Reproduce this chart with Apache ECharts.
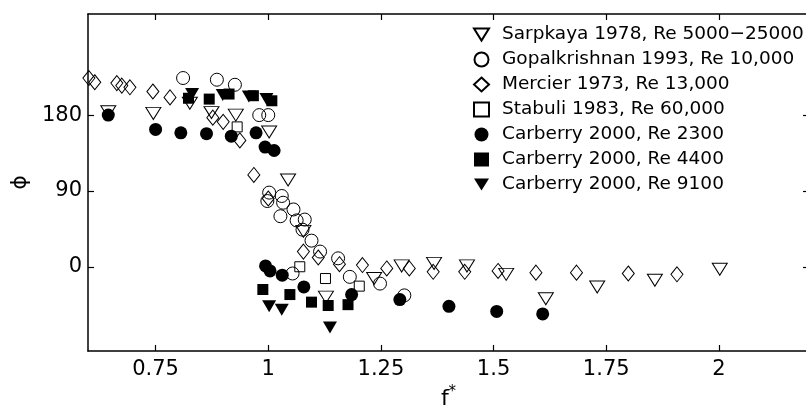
<!DOCTYPE html>
<html>
<head>
<meta charset="utf-8">
<script src="https://cdn.jsdelivr.net/npm/echarts@6/dist/echarts.min.js"></script>
<style>
  html, body { margin: 0; padding: 0; background: #fff; }
  #chart { width: 806px; height: 410px; }
</style>
</head>
<body>
<div id="chart"></div>
<script>
// Phase angle phi versus normalised frequency f*, several data sets.
const tickF = [0.75, 1, 1.25, 1.5, 1.75, 2];
const tickPhi = [0, 90, 180];

const seriesNames = [
  'Sarpkaya 1978, Re 5000\u221225000',
  'Gopalkrishnan 1993, Re 10,000',
  'Mercier 1973, Re 13,000',
  'Stabuli 1983, Re 60,000',
  'Carberry 2000, Re 2300',
  'Carberry 2000, Re 4400',
  'Carberry 2000, Re 9100'
];

const sarpkayaF   = [0.645, 0.745, 0.826, 0.874, 0.928, 1.002, 1.044, 1.078, 1.128, 1.235, 1.296, 1.368, 1.441, 1.528, 1.616, 1.730, 1.858, 2.002];
const sarpkayaPhi = [184, 182, 194, 183, 180, 160, 103, 42, -36, -14, 1, 4, 1, -9, -38, -24, -16, -3];

const gopalF   = [0.811, 0.886, 0.926, 0.980, 1.000, 1.002, 0.998, 1.030, 1.033, 1.027, 1.056, 1.063, 1.081, 1.076, 1.096, 1.115, 1.155, 1.054, 1.181, 1.248, 1.302];
const gopalPhi = [224, 222, 216, 180, 180, 88, 78, 84, 76, 60, 68, 55, 56, 44, 31, 18, 10, -8, -12, -20, -34];

const mercierF   = [0.602, 0.615, 0.664, 0.675, 0.693, 0.744, 0.782, 0.877, 0.900, 0.937, 0.968, 1.000, 1.078, 1.111, 1.158, 1.209, 1.263, 1.313, 1.366, 1.436, 1.510, 1.594, 1.684, 1.799, 1.907];
const mercierPhi = [224, 219, 218, 215, 213, 208, 201, 177, 172, 150, 109, 81, 18, 11, 3, 2, -2, -2, -6, -6, -5, -7, -7, -8, -9];

const stabuliF   = [0.931, 1.070, 1.127, 1.202];
const stabuliPhi = [166, 0, -14, -23];

const carb2300F   = [0.645, 0.750, 0.806, 0.863, 0.918, 0.973, 0.993, 1.013, 0.994, 1.004, 1.031, 1.079, 1.185, 1.292, 1.401, 1.507, 1.609];
const carb2300Phi = [180, 163, 159, 158, 155, 159, 142, 138, 1, -5, -10, -24, -33, -39, -47, -53, -56];

const carb4400F   = [0.823, 0.869, 0.913, 0.967, 1.008, 0.988, 1.048, 1.096, 1.133, 1.177];
const carb4400Phi = [200, 199, 205, 203, 197, -27, -33, -42, -46, -45];

const carb9100F   = [0.831, 0.899, 0.957, 0.996, 1.002, 1.030, 1.137];
const carb9100Phi = [205, 204, 202, 199, -47, -51, -72];

const pairs = (xs, ys) => xs.map((x, i) => [x, ys[i]]);

const FONT = 'DejaVu Sans';
const downTri = 'path://M0,0L16,0L8,13Z';
const openStyle = { color: 'rgba(0,0,0,0)', borderColor: '#000', borderWidth: 1, opacity: 1 };
const fillStyle = { color: '#000', borderColor: '#000', borderWidth: 0, opacity: 1 };

function scatter(name, data, symbol, size, style) {
  return {
    type: 'scatter', name, data, symbol, symbolSize: size,
    itemStyle: style, emphasis: { disabled: true }, silent: true
  };
}

const axisLineStyle = { color: '#000', width: 1.5 };
const tickStyle = { color: '#000', width: 1.2 };

const option = {
  animation: false,
  backgroundColor: '#fff',
  textStyle: { fontFamily: FONT },
  grid: { left: 88, right: -3, top: 14, bottom: 59, containLabel: false, outerBoundsMode: 'none' },
  legend: {
    orient: 'vertical', left: 473, top: 25, padding: 0,
    itemWidth: 15, itemHeight: 14, itemGap: 6,
    textStyle: { fontFamily: FONT, fontSize: 18.5, color: '#000', padding: [0, 0, 0, 8] },
    data: seriesNames
  },
  xAxis: [{
    type: 'value', min: 0.6, max: 2.2, position: 'bottom',
    axisLine: { show: true, onZero: false, lineStyle: axisLineStyle },
    axisTick: { show: true, inside: true, length: 6, customValues: tickF, lineStyle: tickStyle },
    axisLabel: { customValues: tickF, formatter: v => String(v), fontFamily: FONT, fontSize: 21, color: '#000', margin: 8 },
    splitLine: { show: false },
    name: '{f|f}{s|*}', nameLocation: 'middle', nameGap: 28,
    nameTextStyle: {
      color: '#000',
      rich: {
        f: { fontFamily: FONT, fontSize: 22, color: '#000' },
        s: { fontFamily: FONT, fontSize: 15, color: '#000', padding: [0, 0, 14, 0] }
      }
    }
  }, {
    type: 'value', min: 0.6, max: 2.2, position: 'top',
    axisLine: { show: true, onZero: false, lineStyle: axisLineStyle },
    axisTick: { show: true, inside: true, length: 6, customValues: tickF, lineStyle: tickStyle },
    axisLabel: { show: false },
    splitLine: { show: false }
  }],
  yAxis: [{
    type: 'value', min: -100, max: 300, position: 'left',
    axisLine: { show: true, onZero: false, lineStyle: axisLineStyle },
    axisTick: { show: true, inside: true, length: 6, customValues: tickPhi, lineStyle: tickStyle },
    axisLabel: { customValues: tickPhi, fontFamily: FONT, fontSize: 21, color: '#000', margin: 6 },
    splitLine: { show: false },
    name: '\u03d5', nameLocation: 'middle', nameGap: 56, nameRotate: 90,
    nameTextStyle: { fontFamily: FONT, fontSize: 22, color: '#000' }
  }, {
    type: 'value', min: -100, max: 300, position: 'right',
    axisLine: { show: true, onZero: false, lineStyle: axisLineStyle },
    axisTick: { show: true, inside: true, length: 6, customValues: tickPhi, lineStyle: tickStyle },
    axisLabel: { show: false },
    splitLine: { show: false }
  }],
  series: [
    scatter(seriesNames[0], pairs(sarpkayaF, sarpkayaPhi), downTri, [15, 12], openStyle),
    scatter(seriesNames[1], pairs(gopalF, gopalPhi), 'circle', 13, openStyle),
    scatter(seriesNames[2], pairs(mercierF, mercierPhi), 'diamond', [12, 15], openStyle),
    scatter(seriesNames[3], pairs(stabuliF, stabuliPhi), 'rect', 10, openStyle),
    scatter(seriesNames[4], pairs(carb2300F, carb2300Phi), 'circle', 13, fillStyle),
    scatter(seriesNames[5], pairs(carb4400F, carb4400Phi), 'rect', 11, fillStyle),
    scatter(seriesNames[6], pairs(carb9100F, carb9100Phi), downTri, [14, 12], fillStyle)
  ]
};

const chart = echarts.init(document.getElementById('chart'), null, { renderer: 'canvas' });
chart.setOption(option);
</script>
</body>
</html>
